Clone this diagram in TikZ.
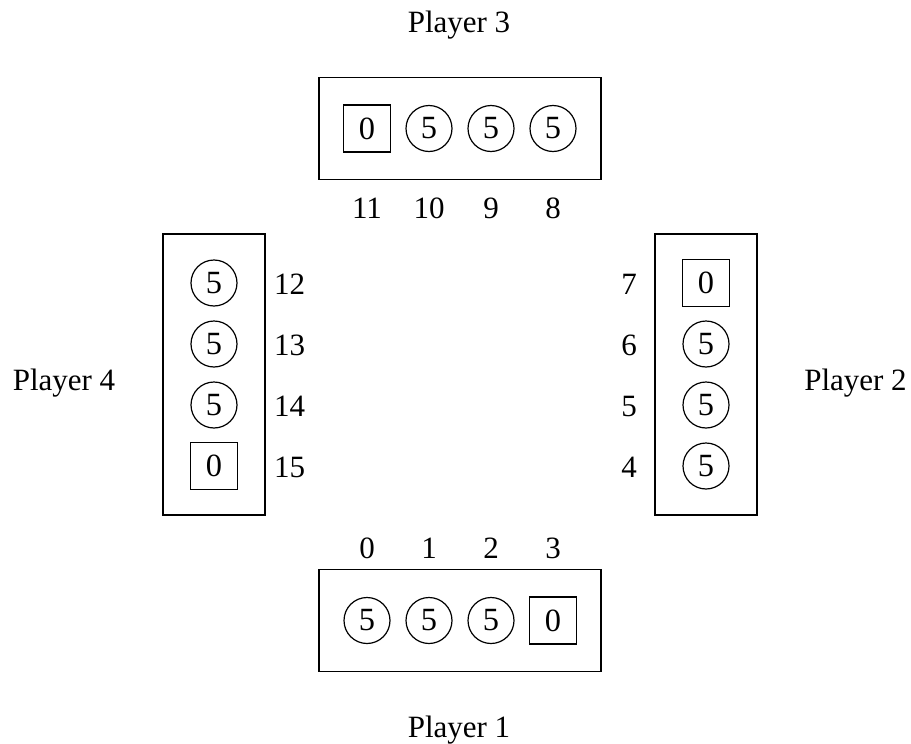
\documentclass[tikz,border=0pt]{standalone}
\usepackage{fontspec}
\setmainfont{Liberation Serif}
\begin{document}
\begin{tikzpicture}[x=0.5pt,y=-0.5pt,
  every node/.style={font=\fontsize{15.5}{18}\selectfont},
  tray/.style={draw,line width=0.9pt,inner sep=0,rectangle},
  htray/.style={tray,minimum width=141pt,minimum height=51pt},
  vtray/.style={tray,minimum width=51pt,minimum height=140.5pt},
  seed/.style={draw,circle,line width=0.6pt,inner sep=0,minimum size=23pt,
    font=\fontsize{16.2}{18}\selectfont},
  store/.style={draw,rectangle,line width=0.6pt,inner sep=0,minimum size=23.5pt,
    font=\fontsize{16.2}{18}\selectfont},
  idx/.style={inner sep=0,anchor=base},
  who/.style={inner sep=0,anchor=base}]
\useasboundingbox (0,0) rectangle (911,744);

% trays of the four players
\node[htray] (trayN) at (460,128.5) {};
\node[htray] (trayS) at (460,620.5) {};
\node[vtray] (trayW) at (214,374.5) {};
\node[vtray] (trayE) at (706,374.5) {};

% player 3 (top): pits 11..8, store first
\node[store] (p11) at (367,128.5) {0};
\node[seed]  (p10) at (429,128.5) {5};
\node[seed]  (p9)  at (491,128.5) {5};
\node[seed]  (p8)  at (553,128.5) {5};
\node[idx] (l11) at (367,218) {11};
\node[idx] (l10) at (429,218) {10};
\node[idx] (l9)  at (491,218) {9};
\node[idx] (l8)  at (553,218) {8};

% player 1 (bottom): pits 0..3, store last
\node[seed]  (p0) at (367,620.5) {5};
\node[seed]  (p1) at (429,620.5) {5};
\node[seed]  (p2) at (491,620.5) {5};
\node[store] (p3) at (553,620.5) {0};
\node[idx] (l0) at (367,558) {0};
\node[idx] (l1) at (429,558) {1};
\node[idx] (l2) at (491,558) {2};
\node[idx] (l3) at (553,558) {3};

% player 4 (left): pits 12..15, store last
\node[seed]  (p12) at (214,283) {5};
\node[seed]  (p13) at (214,344) {5};
\node[seed]  (p14) at (214,405) {5};
\node[store] (p15) at (214,466) {0};
\node[idx] (l12) at (289.5,294) {12};
\node[idx] (l13) at (289.5,355) {13};
\node[idx] (l14) at (289.5,416) {14};
\node[idx] (l15) at (289.5,477) {15};

% player 2 (right): store first, pits 7..4
\node[store] (p7) at (706,283) {0};
\node[seed]  (p6) at (706,344) {5};
\node[seed]  (p5) at (706,405) {5};
\node[seed]  (p4) at (706,466) {5};
\node[idx] (l7) at (629,294) {7};
\node[idx] (l6) at (629,355) {6};
\node[idx] (l5) at (629,416) {5};
\node[idx] (l4) at (629,477) {4};

% player names
\node[who] (n3) at (459,32.3) {Player 3};
\node[who] (n1) at (459,737.7) {Player 1};
\node[who] (n4) at (64,390) {Player 4};
\node[who] (n2) at (855.5,390) {Player 2};
\end{tikzpicture}
\end{document}
